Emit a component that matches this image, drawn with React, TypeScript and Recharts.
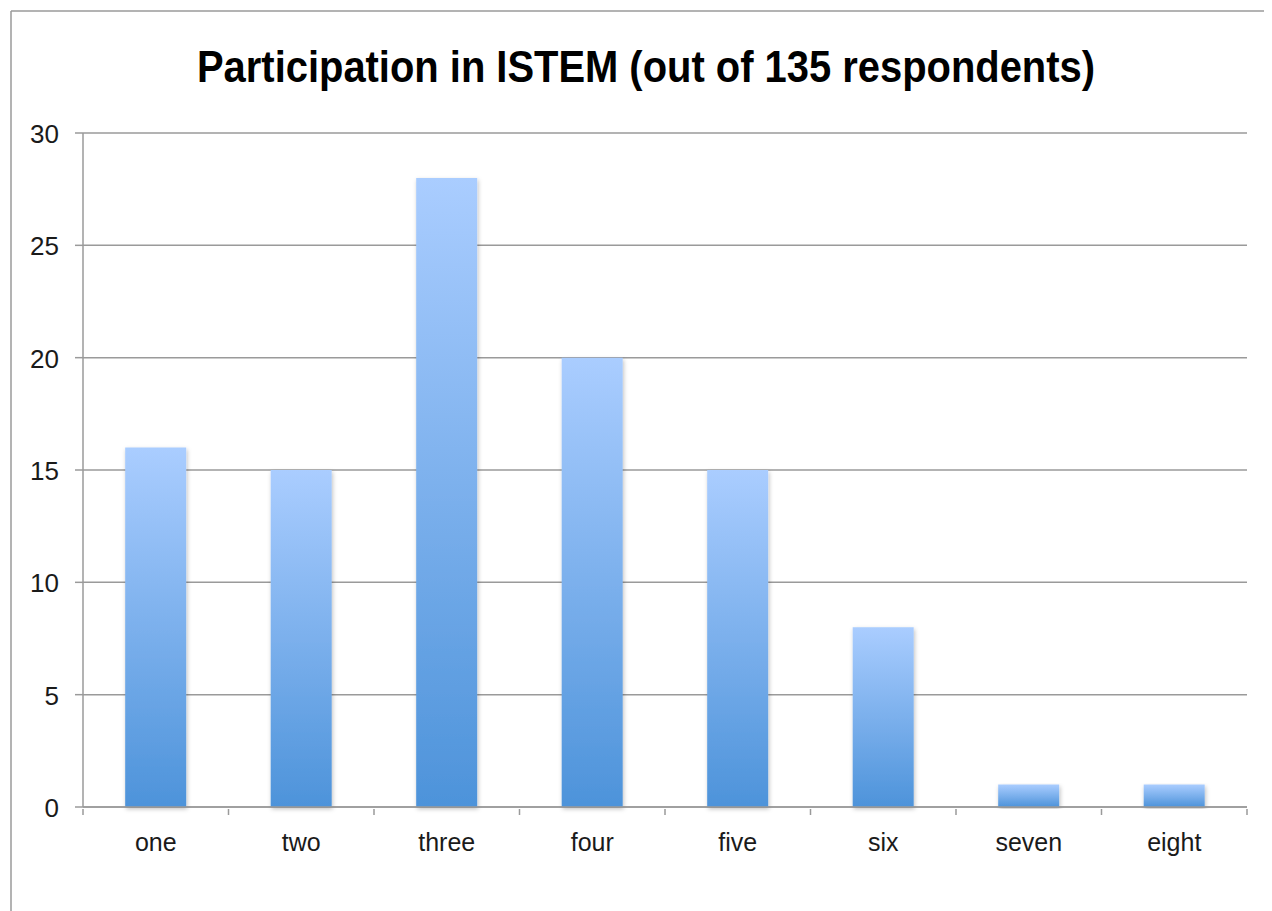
import React from "react";
import { BarChart, Bar, XAxis, YAxis, CartesianGrid, Customized } from "recharts";

const categories = ["one", "two", "three", "four", "five", "six", "seven", "eight"];
const counts = [16, 15, 28, 20, 15, 8, 1, 1];
const yTicks = [0, 5, 10, 15, 20, 25, 30];
const title = "Participation in ISTEM (out of 135 respondents)";

const data = categories.map((c, i) => ({ name: c, value: counts[i] }));

const W = 1264;
const H = 903;
const M = { top: 125, right: 25, left: 0, bottom: 64 };
const YW = 75;
const plotW = W - M.left - M.right - YW;
const band = plotW / categories.length;
const GRAY = "#9a9a9a";
const FONT = "'Liberation Sans', Arial, sans-serif";

const XTick = (props: any) => {
  const { x, y, payload, index } = props;
  const left = x - band / 2;
  return (
    <g>
      <line x1={left} x2={left} y1={y - 8} y2={y - 2} stroke={GRAY} strokeWidth={1.5} />
      {index === categories.length - 1 && (
        <line x1={x + band / 2} x2={x + band / 2} y1={y - 8} y2={y - 2} stroke={GRAY} strokeWidth={1.5} />
      )}
      <text x={x} y={y + 34} textAnchor="middle" fontSize={25} fill="#1a1a1a" fontFamily={FONT}>
        {payload.value}
      </text>
    </g>
  );
};

const YTick = (props: any) => {
  const { x, y, payload } = props;
  return (
    <text x={x - 14} y={y + 10} textAnchor="end" fontSize={26} fill="#1a1a1a" fontFamily={FONT}>
      {payload.value}
    </text>
  );
};

const Frame = () => (
  <g>
    <line x1={3} x2={3} y1={3} y2={H} stroke={GRAY} strokeWidth={1.5} />
    <line x1={3} x2={W} y1={3} y2={3} stroke={GRAY} strokeWidth={1.5} />
    <text
      x={638}
      y={74}
      textAnchor="middle"
      fontSize={44}
      fontWeight="bold"
      fill="#000"
      fontFamily="'Liberation Sans', Arial, sans-serif"
      textLength={898}
      lengthAdjust="spacingAndGlyphs"
    >
      {title}
    </text>
  </g>
);

export default function App() {
  return (
    <BarChart width={W} height={H} data={data} margin={M} barCategoryGap="29%">
      <defs>
        <linearGradient id="barGrad" x1="0" y1="0" x2="0" y2="1">
          <stop offset="0%" stopColor="#aacdff" />
          <stop offset="100%" stopColor="#4d93da" />
        </linearGradient>
        <filter id="shadow" x="-20%" y="-5%" width="140%" height="110%">
          <feDropShadow dx="1" dy="2" stdDeviation="2" floodColor="#000" floodOpacity="0.25" />
        </filter>
      </defs>
      <Customized component={Frame} />
      <CartesianGrid vertical={false} stroke={GRAY} strokeWidth={1.5} />
      <YAxis
        width={YW}
        domain={[0, 30]}
        ticks={yTicks}
        interval={0}
        axisLine={{ stroke: GRAY, strokeWidth: 1.5 }}
        tickLine={{ stroke: GRAY, strokeWidth: 1.5 }}
        tickSize={8}
        tick={<YTick />}
      />
      <XAxis
        dataKey="name"
        height={40}
        interval={0}
        axisLine={{ stroke: GRAY, strokeWidth: 1.5 }}
        tickLine={false}
        tickSize={8}
        tick={<XTick />}
      />
      <Bar dataKey="value" fill="url(#barGrad)" filter="url(#shadow)" isAnimationActive={false} />
    </BarChart>
  );
}
